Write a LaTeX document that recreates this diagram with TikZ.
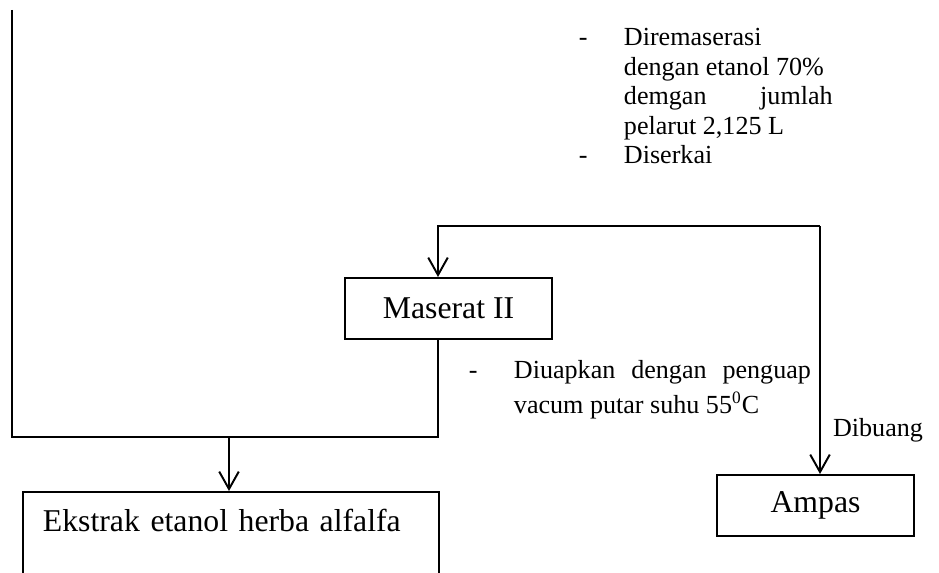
\documentclass[tikz,border=0pt]{standalone}
\usepackage{fontspec}
\setmainfont{Liberation Serif}
\usetikzlibrary{arrows.meta, positioning}

\begin{document}
\begin{tikzpicture}[x=0.46pt, y=-0.46pt, line width=0.9pt,
  box/.style={draw, rectangle, inner sep=0pt, font=\fontsize{14.6}{16}\selectfont},
  arr/.style={-{Straight Barb[length=8pt, width=9pt]}},
  note/.style={inner sep=0pt, anchor=north west}]

  \useasboundingbox (0,0) rectangle (939,572);

  % Kotak
  \node[box, minimum width=95.2pt, minimum height=28.1pt] (maserat) at (448.5,308.5) {Maserat II};
  \node[box, minimum width=90.6pt, minimum height=28.1pt] (ampas) at (815.5,505.5) {Ampas};
  \node[box, anchor=north west, inner xsep=9.2pt, text width=173pt, align=left,
        text height=18pt, text depth=20pt] (ekstrak) at (22,491) {Ekstrak etanol herba alfalfa};

  % Keterangan
  \node[note] (ket1) at (578,24) {\fontsize{12}{13.6}\selectfont
    \begin{tabular}{@{}p{20.7pt}@{}p{96pt}@{}}
      - & Diremaserasi\newline dengan etanol 70\%\newline demgan\hfill jumlah\newline pelarut 2,125 L\\
      - & Diserkai
    \end{tabular}};
  \node[note] (ket2) at (468,353) {\fontsize{12}{16}\selectfont
    \begin{tabular}{@{}p{20.7pt}@{}p{136.6pt}@{}}
      - & Diuapkan\hfill dengan\hfill penguap\newline vacum putar suhu 55\textsuperscript{0}C
    \end{tabular}};
  \node[font=\fontsize{12}{14}\selectfont, inner sep=0pt] (buang) at (878,430) {Dibuang};

  % Garis
  \coordinate (awal) at (12,10);
  \coordinate (gabung) at (438,437);
  \coordinate (turun) at (229,437);
  \coordinate (kanan) at (820,226);
  \coordinate (kiri) at (438,226);

  \draw (awal) |- (gabung) -- (gabung |- maserat.south);
  \draw[arr] (turun) -- (turun |- ekstrak.north);
  \draw[arr] (kanan) -- (kiri) -- (kiri |- maserat.north);
  \draw[arr] (kanan) -- (kanan |- ampas.north);
\end{tikzpicture}
\end{document}
